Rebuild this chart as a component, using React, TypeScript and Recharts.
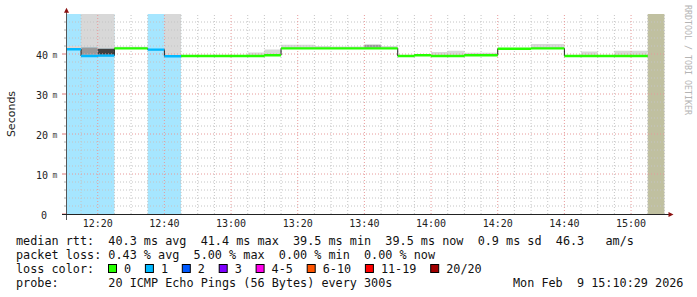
import { ComposedChart, Area, Line, XAxis, YAxis, ReferenceLine } from 'recharts'

// 5 minute steps, start time of each step
const stepTimes = [
	'12:10', '12:15', '12:20', '12:25', '12:30', '12:35', '12:40', '12:45', '12:50', '12:55',
	'13:00', '13:05', '13:10', '13:15', '13:20', '13:25', '13:30', '13:35', '13:40', '13:45',
	'13:50', '13:55', '14:00', '14:05', '14:10', '14:15', '14:20', '14:25', '14:30', '14:35',
	'14:40', '14:45', '14:50', '14:55', '15:00', '15:05',
]
const endTime = '15:10'

// median rtt (ms), null = no data yet
const medianMs = [
	41.2, 39.5, 39.6, 41.4, 41.4, 41.1, 39.45, 39.5, 39.5, 39.5,
	39.5, 39.5, 39.7, 41.4, 41.4, 41.4, 41.4, 41.4, 41.4, 41.4,
	39.5, 39.7, 39.5, 39.5, 39.7, 39.7, 41.3, 41.3, 41.4, 41.4,
	39.5, 39.5, 39.5, 39.5, 39.5, null,
]

// lost pings out of 20
const lossCount = [
	1, 1, 1, 0, 0, 1, 1, 0, 0, 0,
	0, 0, 0, 0, 0, 0, 0, 0, 0, 0,
	0, 0, 0, 0, 0, 0, 0, 0, 0, 0,
	0, 0, 0, 0, 0, null,
]

// outer smoke band (ms), 60 = beyond the top of the graph
const smokeLo = [
	41.5, 41.6, 41.3, 41.6, 41.6, null, 39.7, null, null, null,
	null, 39.8, 39.9, 41.65, 41.65, 41.65, 41.65, 41.65, 41.65, 41.65,
	null, null, 39.8, 39.8, 39.9, 39.9, null, null, 41.65, 41.65,
	null, 39.8, null, 39.8, 39.8, null,
]
const smokeHi = [
	42.0, 60, 60, 41.8, 41.8, null, 60, null, null, null,
	null, 40.4, 41.1, 42.3, 42.3, 42.0, 41.85, 41.85, 42.3, 42.0,
	null, null, 40.5, 40.8, 40.3, 40.3, null, null, 42.5, 42.5,
	null, 40.65, null, 40.8, 40.8, null,
]
const smokeMid: Record<string, [number, number]> = { '12:15': [39.8, 41.6], '13:40': [41.65, 42.3] }
const smokeDark: Record<string, [number, number]> = { '12:20': [39.8, 41.3] }

const lossLabels = ['0', '1', '2', '3', '4-5', '6-10', '11-19', '20/20']
const lossColors = ['#26ff00', '#00b8ff', '#0059ff', '#7e00ff', '#ff00ea', '#ff5500', '#ff0000', '#a10000']

const xTickTimes = ['12:20', '12:40', '13:00', '13:20', '13:40', '14:00', '14:20', '14:40', '15:00']
const yTickValues = [0, 10, 20, 30, 40]

const statLines = [
	'median rtt:  40.3 ms avg  41.4 ms max  39.5 ms min  39.5 ms now  0.9 ms sd  46.3   am/s',
	'packet loss: 0.43 % avg  5.00 % max  0.00 % min  0.00 % now',
]
const probeText = 'probe:       20 ICMP Echo Pings (56 Bytes) every 300s'
const stampText = 'Mon Feb  9 15:10:29 2026'

const mono = '"DejaVu Sans Mono", monospace'
const CW = 7.1
const Y_MAX = 50
const HALF = 0.3

const toMin = (s: string) => {
	const [h, m] = s.split(':').map(Number)
	return (h - 12) * 60 + m
}
const fmtTime = (m: number) => `${12 + Math.floor(m / 60)}:${String(m % 60).padStart(2, '0')}`
const X_START = toMin(stepTimes[0]) + 29 / 60
const X_END = toMin(endTime) + 29 / 60

const bucketOf = (n: number) =>
	n === 0 ? 0 : n === 1 ? 1 : n === 2 ? 2 : n === 3 ? 3 : n <= 5 ? 4 : n <= 10 ? 5 : n <= 19 ? 6 : 7

const tint = (hex: string, a: number) => {
	const c = [1, 3, 5].map((i) => parseInt(hex.slice(i, i + 2), 16))
	return '#' + c.map((v) => Math.round(255 - a * (255 - v)).toString(16).padStart(2, '0')).join('')
}

const N = stepTimes.length
const known = (i: number) => i >= 0 && i < N && medianMs[i] != null

const data = [...stepTimes, endTime].map((s, k) => {
	// the point after the last known step closes that step
	const src = known(k) ? k : known(k - 1) ? k - 1 : -1
	const bgSrc = k < N ? k : N - 1
	const med = src >= 0 ? (medianMs[src] as number) : null
	const key = src >= 0 ? stepTimes[src] : ''
	return {
		t: toMin(s),
		med,
		bucket: src >= 0 ? bucketOf(lossCount[src] as number) : null,
		bg: lossCount[bgSrc] == null ? -1 : bucketOf(lossCount[bgSrc] as number),
		smoke: med == null ? null : smokeLo[src] != null ? [smokeLo[src], smokeHi[src]] : [med, med],
		mid: med == null ? null : smokeMid[key] ?? [med, med],
		dark: med == null ? null : smokeDark[key] ?? [med, med],
	}
})

const majorX = xTickTimes.map(toMin)
const minorX = [...stepTimes.slice(1), endTime].map(toMin).filter((v) => !majorX.includes(v))
const yTicks = Array.from({ length: Y_MAX / 2 }, (_, i) => i * 2)
const minorY = yTicks.filter((v) => v > 0 && !yTickValues.includes(v))

const XTick = (props: any) => {
	const { x, y, payload } = props
	return (
		<text x={x} y={y + 12.7} textAnchor="middle" fontFamily={mono} fontSize={10} fill="#222">
			{fmtTime(payload.value)}
		</text>
	)
}

const YTick = (props: any) => {
	const { x, y, payload } = props
	const v = payload.value
	const major = yTickValues.includes(v)
	return (
		<g>
			<line x1={x - (major ? 4 : 2)} x2={x} y1={y} y2={y} stroke={major ? '#e07878' : '#b0b0b0'} />
			{major && (
				<text x={x - (v === 0 ? 19 : 18)} y={y + 4.5} textAnchor="end" fontFamily={mono} fontSize={10} fill="#222">
					{v}
				</text>
			)}
			{major && v !== 0 && (
				<text x={x - 11} y={y + 4} textAnchor="middle" fontFamily={mono} fontSize={8} fill="#444">
					m
				</text>
			)}
		</g>
	)
}

const Chart = () => (
	<ComposedChart width={697} height={297} data={data} margin={{ top: 14, right: 31, bottom: 0, left: 0 }}>
		<XAxis
			dataKey="t"
			type="number"
			domain={[X_START, X_END]}
			allowDataOverflow
			ticks={majorX}
			interval={0}
			height={83}
			axisLine={false}
			tickLine={false}
			tickSize={0}
			tickMargin={0}
			tick={(p: any) => <XTick {...p} />}
		/>
		<YAxis
			type="number"
			domain={[0, Y_MAX]}
			allowDataOverflow
			ticks={yTicks}
			interval={0}
			width={66}
			axisLine={false}
			tickLine={false}
			tickSize={0}
			tickMargin={0}
			tick={(p: any) => <YTick {...p} />}
		/>

		{/* loss background, only where pings were lost */}
		{lossColors.map((c, b) =>
			b === 0 ? null : (
				<Area
					key={`bg-${b}`}
					type="stepAfter"
					dataKey={(d: any) => (d.bg === b ? Y_MAX : 0)}
					stroke="none"
					fill={tint(c, 0.35)}
					fillOpacity={1}
					dot={false}
					activeDot={false}
					isAnimationActive={false}
					zIndex={100}
				/>
			)
		)}
		<Area
			type="stepAfter"
			dataKey={(d: any) => (d.bg === -1 ? Y_MAX : 0)}
			stroke="none"
			fill="#c0c0a0"
			fillOpacity={1}
			dot={false}
			activeDot={false}
			isAnimationActive={false}
			zIndex={101}
		/>

		{/* smoke */}
		<Area type="stepAfter" dataKey="smoke" stroke="none" fill="#d8d8d8" fillOpacity={1} dot={false} activeDot={false} isAnimationActive={false} zIndex={110} />
		<Area type="stepAfter" dataKey="mid" stroke="none" fill="#999999" fillOpacity={1} dot={false} activeDot={false} isAnimationActive={false} zIndex={111} />
		<Area type="stepAfter" dataKey="dark" stroke="none" fill="#404040" fillOpacity={1} dot={false} activeDot={false} isAnimationActive={false} zIndex={112} />

		{/* grid */}
		{minorX.map((v) => (
			<ReferenceLine key={`mx-${v}`} x={v} stroke="#c4c4c4" strokeDasharray="1 2" zIndex={150} />
		))}
		{minorY.map((v) => (
			<ReferenceLine key={`my-${v}`} y={v} stroke="#c4c4c4" strokeDasharray="1 2" zIndex={150} />
		))}
		{majorX.map((v) => (
			<ReferenceLine key={`Mx-${v}`} x={v} stroke="#e89a9a" strokeDasharray="1 2" zIndex={151} />
		))}
		{yTickValues.filter((v) => v > 0).map((v) => (
			<ReferenceLine key={`My-${v}`} y={v} stroke="#e89a9a" strokeDasharray="1 2" zIndex={151} />
		))}

		{/* median */}
		<Line type="stepAfter" dataKey="med" stroke="#222" strokeWidth={1} dot={false} activeDot={false} isAnimationActive={false} zIndex={160} />
		{lossColors.map((c, b) => (
			<Area
				key={`med-${b}`}
				type="stepAfter"
				dataKey={(d: any) => (d.med == null ? null : d.bucket === b ? [d.med - HALF, d.med + HALF] : [d.med, d.med])}
				stroke="none"
				fill={c}
				fillOpacity={1}
				dot={false}
				activeDot={false}
				isAnimationActive={false}
				zIndex={170}
			/>
		))}
	</ComposedChart>
)

const pre = { whiteSpace: 'pre' as const }

const Legend = () => {
	let x = 108.5
	return (
		<g>
			<text x={16} y={273} xmlSpace="preserve" style={pre}>loss color:</text>
			{lossLabels.map((l, i) => {
				const bx = x
				x += 16 + l.length * CW + 13.8
				return (
					<g key={l}>
						<rect x={bx} y={264.5} width={8} height={8} fill={lossColors[i]} stroke="#000" />
						<text x={bx + 15.5} y={273}>{l}</text>
					</g>
				)
			})}
		</g>
	)
}

export default function App() {
	return (
		<div style={{ position: 'absolute', left: 0, top: 0, width: 697, height: 297, background: '#fff' }}>
			<Chart />
			<svg width={697} height={297} style={{ position: 'absolute', left: 0, top: 0, pointerEvents: 'none' }}>
				<line x1={66.5} y1={10} x2={66.5} y2={220} stroke="#555" />
				<line x1={62} y1={214.5} x2={669} y2={214.5} stroke="#222" />
				<path d="M64,12.7 L66.5,7.7 L69,12.7 Z" fill="#8b1010" />
				<path d="M668.5,212 L673.5,214.5 L668.5,217 Z" fill="#8b1010" />

				<text
					transform="translate(14.5,114) rotate(-90)"
					textAnchor="middle"
					fontFamily='"DejaVu Sans", sans-serif'
					fontSize={11}
					fill="#222"
				>
					Seconds
				</text>
				<text
					transform="translate(685,5) rotate(90)"
					fontFamily={mono}
					fontSize={8.3}
					fill="#b4b4b4"
					xmlSpace="preserve"
					style={pre}
				>
					RRDTOOL / TOBI OETIKER
				</text>

				<g fontFamily={mono} fontSize={11.8} fill="#111">
					{statLines.map((s, i) => (
						<text key={i} x={16} y={245 + i * 14} xmlSpace="preserve" style={pre}>
							{s}
						</text>
					))}
					<Legend />
					<text x={16} y={287} xmlSpace="preserve" style={pre}>{probeText}</text>
					<text x={16 + 70 * CW} y={287} xmlSpace="preserve" style={pre}>{stampText}</text>
				</g>
			</svg>
		</div>
	)
}
